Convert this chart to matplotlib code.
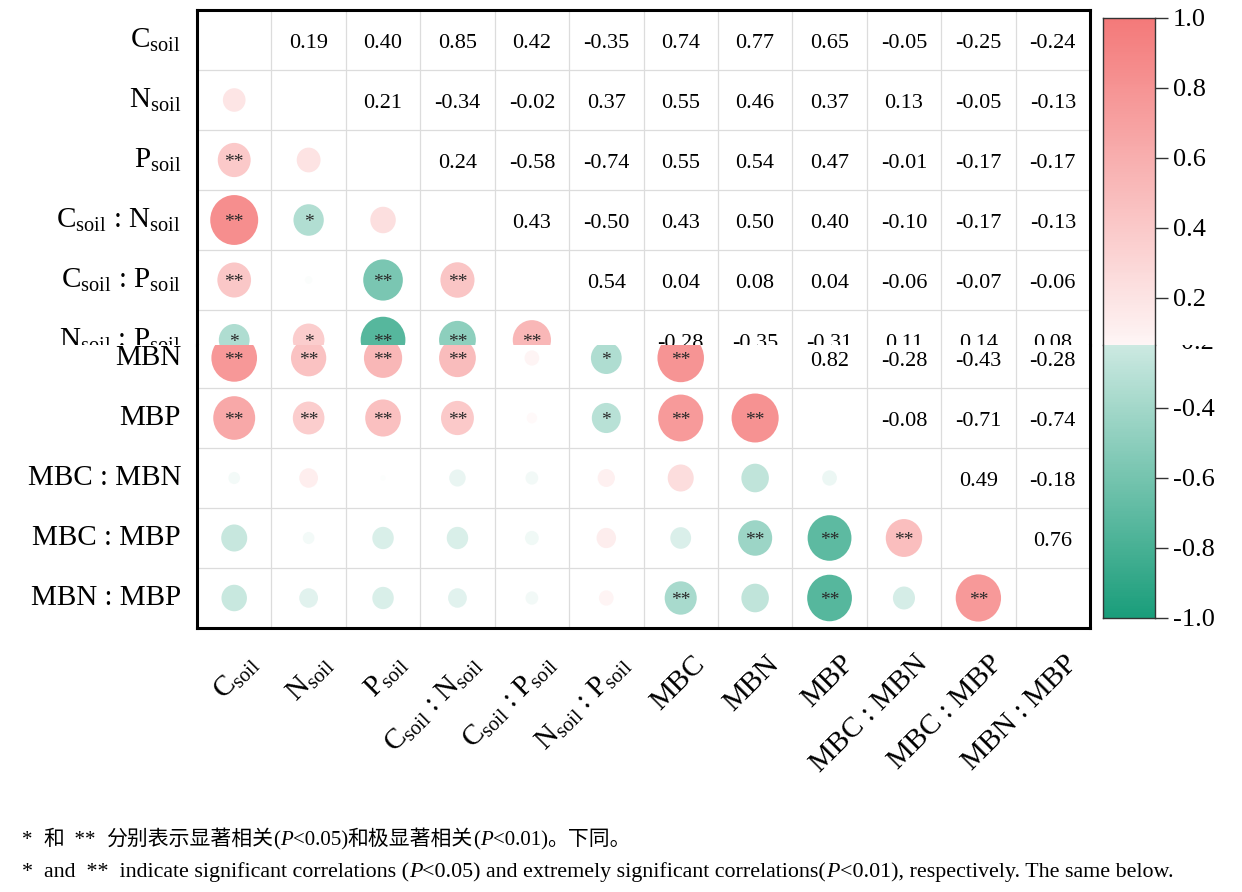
import numpy as np
import matplotlib
matplotlib.use('Agg')
import matplotlib.pyplot as plt
import matplotlib.transforms as mtrans
from matplotlib.colors import LinearSegmentedColormap, Normalize
from matplotlib.patches import Ellipse, Rectangle
from matplotlib.offsetbox import TextArea, HPacker, AnnotationBbox

plt.rcParams['font.family'] = ['Liberation Serif', 'Noto Sans CJK SC']
plt.rcParams['mathtext.fontset'] = 'custom'
plt.rcParams['mathtext.rm'] = 'Liberation Serif'
plt.rcParams['mathtext.it'] = 'Liberation Serif:italic'
plt.rcParams['mathtext.bf'] = 'Liberation Serif:bold'

labels = [r'C$_{\rm soil}$', r'N$_{\rm soil}$', r'P$_{\rm soil}$',
          r'C$_{\rm soil}$ : N$_{\rm soil}$', r'C$_{\rm soil}$ : P$_{\rm soil}$',
          r'N$_{\rm soil}$ : P$_{\rm soil}$', 'MBC', 'MBN', 'MBP',
          'MBC : MBN', 'MBC : MBP', 'MBN : MBP']

# upper triangle, row by row (columns i+1 .. 11)
r_csoil = [0.19, 0.40, 0.85, 0.42, -0.35, 0.74, 0.77, 0.65, -0.05, -0.25, -0.24]
r_nsoil = [0.21, -0.34, -0.02, 0.37, 0.55, 0.46, 0.37, 0.13, -0.05, -0.13]
r_psoil = [0.24, -0.58, -0.74, 0.55, 0.54, 0.47, -0.01, -0.17, -0.17]
r_cn = [0.43, -0.50, 0.43, 0.50, 0.40, -0.10, -0.17, -0.13]
r_cp = [0.54, 0.04, 0.08, 0.04, -0.06, -0.07, -0.06]
r_np = [-0.28, -0.35, -0.31, 0.11, 0.14, 0.08]
r_mbc = [0.80, 0.75, 0.25, -0.16, -0.38]
r_mbn = [0.82, -0.28, -0.43, -0.28]
r_mbp = [-0.08, -0.71, -0.74]
r_mbcn = [0.49, -0.18]
r_mbcp = [0.76]
upper = [r_csoil, r_nsoil, r_psoil, r_cn, r_cp, r_np, r_mbc, r_mbn, r_mbp, r_mbcn, r_mbcp, []]

# significance marks, lower triangle (columns 0 .. i-1)
sig = [
    [],
    [''],
    ['**', ''],
    ['**', '*', ''],
    ['**', '', '**', '**'],
    ['*', '*', '**', '**', '**'],
    ['**', '**', '**', '**', '', '*'],
    ['**', '**', '**', '**', '', '*', '**'],
    ['**', '**', '**', '**', '', '*', '**', '**'],
    ['', '', '', '', '', '', '', '', ''],
    ['', '', '', '', '', '', '', '**', '**', '**'],
    ['', '', '', '', '', '', '**', '', '**', '', '**'],
]

n = len(labels)
corr = np.eye(n)
for i, row in enumerate(upper):
    for k, v in enumerate(row):
        corr[i, i + 1 + k] = v
        corr[i + 1 + k, i] = v

cmap = LinearSegmentedColormap.from_list('gr', ['#1B9E7B', '#FFFFFF', '#F47A7A'])
norm = Normalize(-1, 1)

W, H = 1242, 892
fig = plt.figure(figsize=(W / 100, H / 100), dpi=100)
split = 1 - 345 / H

left, right = 197 / W, 1090 / W
ax_top = fig.add_axes([left, split, right - left, (345 - 10) / H])
ax_bot = fig.add_axes([left, 1 - 628 / H, right - left, (628 - 345) / H])

rect_top = Rectangle((0, split), 1, 1 - split, transform=fig.transFigure)
rect_bot = Rectangle((0, 0), 1, split, transform=fig.transFigure)

cw, ch = 893 / 12, 60.0  # pixels per cell


def draw_section(ax, y0, y1, clip_rect, spines):
    ax.set_xlim(-0.5, n - 0.5)
    ax.set_ylim(y1, y0)
    for k in range(n + 1):
        ax.axvline(k - 0.5, color='#dcdcdc', lw=0.9, zorder=0)
        ax.axhline(k - 0.5, color='#dcdcdc', lw=0.9, zorder=0)
    for i in range(n):
        if i < y0 - 0.6 or i > y1 + 0.6:
            continue
        for j in range(n):
            v = corr[i, j]
            if i < j:
                ax.text(j, i + 0.13, f'{v:.2f}', ha='center', va='baseline', fontsize=16,
                        clip_on=True)
            elif i > j:
                d = 52 * np.sqrt(abs(v))
                ax.add_patch(Ellipse((j, i), d / cw, d * 1.04 / ch,
                                     facecolor=cmap(norm(v)), edgecolor='none'))
                if sig[i][j]:
                    ax.text(j, i + 0.04, sig[i][j], ha='center', va='center', fontsize=14,
                            color='#2a2a2a', clip_on=True)
        tr = mtrans.blended_transform_factory(ax.transAxes, ax.transData)
        t = ax.text(-16 / 893, i, labels[i], transform=tr, ha='right', va='center',
                    fontsize=21, clip_on=True)
        t.set_clip_path(clip_rect)
    ax.set_xticks([])
    ax.set_yticks([])
    for s in ['left', 'right', 'top', 'bottom']:
        ax.spines[s].set_visible(s in spines)
        ax.spines[s].set_linewidth(2.2)
        ax.spines[s].set_color('black')


draw_section(ax_top, -0.5, 5 + 5 / 60, rect_top, ['left', 'right', 'top'])
draw_section(ax_bot, 7 - 13 / 60, n - 0.5, rect_bot, ['left', 'right', 'bottom'])

# x labels
for j in range(n):
    tr = ax_bot.get_xaxis_transform() + mtrans.ScaledTranslation(0.20, -0.32, fig.dpi_scale_trans)
    ax_bot.text(j, 0, labels[j], transform=tr, rotation=45, rotation_mode='anchor',
                ha='right', va='center', fontsize=21)

# colour bar in two pieces
cbx, cbw = 1103 / W, 52 / W
cax_top = fig.add_axes([cbx, split, cbw, (345 - 18) / H])
cax_bot = fig.add_axes([cbx, 1 - 618 / H, cbw, (618 - 345) / H])
grad = np.linspace(-1, 1, 600)[:, None]
for cax, lim, ticks, sp in [(cax_top, (0.2 - 47 / 70 * 0.2, 1.0), [0.2, 0.4, 0.6, 0.8, 1.0], 'bottom'),
                            (cax_bot, (-1.0, -0.2 - 7 / 70 * 0.2), [-1.0, -0.8, -0.6, -0.4], 'top')]:
    cax.imshow(grad, cmap=cmap, norm=norm, aspect='auto', extent=(0, 1, -1, 1),
               origin='lower')
    cax.set_xlim(0, 1)
    cax.set_ylim(*lim)
    cax.set_xticks([])
    cax.set_yticks(ticks)
    cax.set_yticklabels([f'{t:.1f}' for t in ticks])
    cax.yaxis.tick_right()
    cax.tick_params(axis='y', length=9, width=1, labelsize=19, pad=4, color='#333333')
    for s in cax.spines:
        cax.spines[s].set_linewidth(1)
        cax.spines[s].set_color('#333333')
    cax.spines[sp].set_visible(False)

# the -0.2 label sits right on the cut
tr = mtrans.blended_transform_factory(cax_bot.transAxes, cax_bot.transData) + \
    mtrans.ScaledTranslation(0.17, -0.05, fig.dpi_scale_trans)
t = cax_bot.text(1.0, -0.2, '-0.2', transform=tr, ha='left', va='center', fontsize=19,
                 clip_on=True)
t.set_clip_path(rect_bot)

# footnote
cjk = dict(family=['Noto Sans CJK SC'], size=15)
ser = dict(family=['Liberation Serif'], size=15)
seri = dict(family=['Liberation Serif'], size=15, style='italic')
ser2 = dict(family=['Liberation Serif'], size=15.8)
seri2 = dict(family=['Liberation Serif'], size=15.8, style='italic')
line1 = [('*  ', ser), ('和', cjk), ('  **  ', ser), ('分别表示显著相关', cjk), ('(', ser),
         ('P', seri), ('<0.05)', ser), ('和极显著相关', cjk), ('(', ser), ('P', seri),
         ('<0.01)', ser), ('。下同。', cjk)]
line2 = [('*  and  **  indicate significant correlations (', ser2), ('P', seri2),
         ('<0.05) and extremely significant correlations(', ser2), ('P', seri2),
         ('<0.01), respectively. The same below.', ser2)]
for parts, yy in [(line1, 839), (line2, 872)]:
    box = HPacker(children=[TextArea(s, textprops=p) for s, p in parts], pad=0, sep=0,
                  align='baseline')
    ab = AnnotationBbox(box, (22 / W, 1 - yy / H), xycoords='figure fraction',
                        box_alignment=(0, 0.5), frameon=False, pad=0)
    fig.add_artist(ab)

fig.savefig('out.png', dpi=100, facecolor='white')
